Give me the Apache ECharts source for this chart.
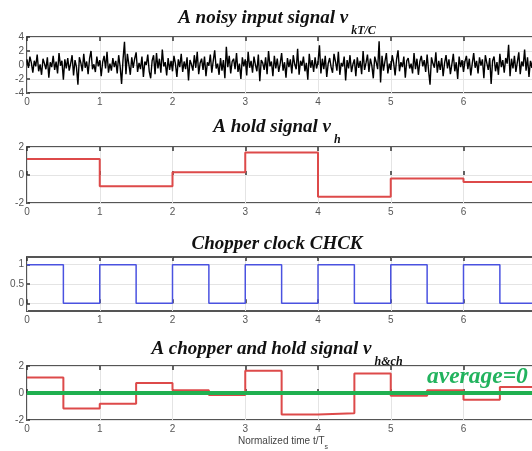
<!DOCTYPE html>
<html>
<head>
<meta charset="utf-8">
<script src="https://cdn.jsdelivr.net/npm/echarts@6/dist/echarts.min.js"></script>
<style>
  html, body { margin: 0; padding: 0; background: #fff; }
  #main { width: 532px; height: 451px; }
</style>
</head>
<body>
<div id="main"></div>
<script>
// noise samples, one every 0.02 T_s
var noiseStep = 0.02;
var noiseValues = [
  0.8, -0.4, 1.2, 0.3, -1.1, 0.6, -0.2, 1.5, -0.9, 0.1,
  -1.4, 0.9, 0.2, -0.6, 1.1, -1.8, 0.4, -0.3, 1.3, -0.7,
  0.5, -1.2, 1.7, -0.1, 0.6, -2.1, 0.8, -0.5, 1.0, -0.8,
  0.2, 1.4, -1.5, 0.7, -0.3, -2.8, 1.1, 0.3, -0.9, 1.6,
  -0.4, 0.5, -1.3, 0.9, 2.0, -0.6, 0.1, -1.0, 1.2, -0.2,
  0.7, -1.6, 0.4, 1.3, -0.5, 1.9, -1.1, 0.2, -0.8, 1.0,
  -0.3, 0.6, -1.2, 1.4, -0.2, -2.7, 0.8, 3.3, -1.3, 1.6,
  0.1, -1.4, 1.1, -0.4, 0.9, 1.8, -1.0, 0.3, -0.6, 1.2,
  -1.7, 0.5, 0.0, 1.5, -0.9, -1.9, 0.6, 1.4, -1.3, 1.7,
  -0.5, 0.9, -1.1, 2.2, -0.2, 0.4, -1.5, 1.0, -0.7, 0.6,
  -0.9, 1.3, 0.2, -1.7, 0.8, -0.3, 1.6, -1.0, 0.5, -0.6,
  1.1, -2.2, 0.7, 0.1, -0.8, 1.4, -0.4, 1.9, -1.3, 0.3,
  0.9, -0.7, 1.2, -1.6, 0.4, -0.1, 1.5, -1.1, 0.6, 2.1,
  -0.5, 0.2, -1.4, 1.0, -0.8, 0.7, -1.9, 2.6, -0.3, 1.3,
  -1.2, 0.5, 0.9, -0.6, 1.7, -1.0, 0.2, -2.0, 1.1, -0.2,
  0.8, -1.5, 1.9, -0.4, 0.6, -1.1, 1.2, 0.0, -0.9, 1.5,
  -2.3, 0.7, 0.3, -0.7, 1.1, -1.3, 2.0, -0.2, 0.5, -1.6,
  1.3, -0.5, 0.9, -1.0, 0.2, 1.7, -0.8, 0.4, -1.8, 1.0,
  -0.3, 0.8, -1.2, 1.4, 0.1, -0.6, 2.3, -1.4, 0.6, -0.1,
  1.2, -0.9, 0.3, -2.1, 1.6, -0.4, 0.7, -1.0, 1.1, -0.5,
  0.4, 2.8, -1.2, 0.9, -0.6, 1.3, -1.7, 0.2, 1.0, -0.3,
  -1.1, 1.6, 0.5, -0.8, 1.9, -1.4, 0.3, -0.2, 1.2, -2.2,
  0.7, -0.5, 1.4, -1.0, 0.1, 0.8, -1.6, 1.1, -0.4, 0.6,
  -1.3, 2.0, -0.7, 0.3, 1.5, -1.0, 0.9, -0.1, -1.9, 1.2,
  0.4, -0.6, 3.4, -2.5, 1.3, -0.8, 0.5, 1.7, -1.2, 0.2,
  -0.7, 1.4, 0.3, -1.5, 0.8, 2.1, -0.9, 0.4, -0.3, 1.2,
  -1.8, 0.6, 1.0, -0.5, 0.2, -1.2, 1.7, -0.6, 0.9, -1.4,
  0.5, 1.3, -0.2, 0.7, -1.0, 1.5, -0.8, -2.8, 1.1, 0.2,
  -0.4, 1.8, -1.1, 0.6, -0.7, 1.0, -1.6, 0.3, 1.4, -0.5,
  0.8, -1.3, 0.1, 1.6, -0.9, 0.4, -2.0, 1.2, -0.3, 0.7,
  -1.0, 0.5, 1.3, -0.6, 0.9, -1.5, 0.2, 1.7, -0.4, 0.6,
  -1.2, 1.1, -0.1, 0.8, -1.9, 1.4, 0.3, -0.7, 1.0, -2.7,
  0.6, 1.2, -0.9, 0.4, -1.4, 1.6, -0.3, 0.7, -1.1, 1.0,
  0.2, 2.9, -1.6, 0.9, -0.5, 1.3, -1.0, 0.4, 1.8, -1.3,
  0.5, -0.2, 2.2, -0.8, 1.1, -1.7, 0.6, -0.4, 1.5, 0.1,
  -0.8, 1.2, -0.3, 0.7, -1.4, 1.0, 0.2, -0.9, 1.5, -0.5
];

// hold signal, one value per T_s
var holdTimes = [0, 1, 2, 3, 4, 5, 6, 7, 8];
var holdValues = [1.15, -0.8, 0.2, 1.6, -1.55, -0.25, -0.5, -0.5, -0.5];

// chopper clock, half periods
var clockTimes = [0, 0.5, 1, 1.5, 2, 2.5, 3, 3.5, 4, 4.5, 5, 5.5, 6, 6.5, 7, 7.5, 8];
var clockValues = [1, 0, 1, 0, 1, 0, 1, 0, 1, 0, 1, 0, 1, 0, 1, 0, 0];

// chopped and held signal
var chopTimes = clockTimes;
var chopValues = [1.15, -1.15, -0.8, 0.75, 0.2, -0.15, 1.65, -1.6, -1.5, 1.45, -0.2, 0.2, -0.5, 0.45, -0.5, 0.5, 0.5];
var averageValue = 0;

var yTicksNoise = [-4, -2, 0, 2, 4];
var yTicksHold = [-2, 0, 2];
var yTicksClock = [0, 0.5, 1];

function pairs(xs, ys) {
  return xs.map(function (x, i) { return [x, ys[i]]; });
}
var noiseData = noiseValues.map(function (v, i) { return [i * noiseStep, v]; });

var chart = echarts.init(document.getElementById('main'));

// the plots run past the right edge of the picture
var grids = [
  { left: 27, width: 582, top: 37, height: 56 },
  { left: 27, width: 582, top: 147, height: 56 },
  { left: 27, width: 582, top: 257, height: 54 },
  { left: 27, width: 582, top: 366, height: 54 }
];
grids.forEach(function (g) {
  g.show = true;
  g.borderColor = '#555';
  g.borderWidth = 2;
  g.backgroundColor = '#fff';
  g.outerBoundsMode = 'none';
  g.containLabel = false;
});

var tickLabel = { color: '#555', fontSize: 10, fontFamily: 'Liberation Sans', margin: 4 };
var gridLine = { show: true, lineStyle: { color: '#e4e4e4', width: 1 } };

var xAxes = [], yAxes = [];
var yCfg = [
  { min: -4, max: 4, ticks: yTicksNoise },
  { min: -2, max: 2, ticks: yTicksHold },
  { min: -0.2, max: 1.2, ticks: yTicksClock },
  { min: -2, max: 2, ticks: yTicksHold }
];
grids.forEach(function (g, i) {
  xAxes.push({
    type: 'value', gridIndex: i, min: 0, max: 8, interval: 1, position: 'bottom',
    axisLine: { show: false },
    axisTick: { inside: true, length: 4, lineStyle: { color: '#333', width: 1.5 } },
    axisLabel: tickLabel,
    splitLine: gridLine
  });
  xAxes.push({
    type: 'value', gridIndex: i, min: 0, max: 8, interval: 1, position: 'top',
    axisLine: { show: false },
    axisTick: { inside: true, length: 4, lineStyle: { color: '#333', width: 1.5 } },
    axisLabel: { show: false },
    splitLine: { show: false }
  });
  yAxes.push({
    type: 'value', gridIndex: i, min: yCfg[i].min, max: yCfg[i].max,
    axisLine: { show: false },
    axisTick: { inside: true, length: 3, customValues: yCfg[i].ticks, lineStyle: { color: '#333', width: 1.5 } },
    axisLabel: Object.assign({}, tickLabel, { customValues: yCfg[i].ticks, margin: 3 }),
    splitLine: gridLine
  });
});

var titleFont = { fontFamily: 'Liberation Serif', fontStyle: 'italic', fontWeight: 'bold', color: '#111' };
function richTitle(main, sub, top) {
  return {
    text: '{m|' + main + '}' + (sub ? '{s|' + sub + '}' : ''),
    left: 277, top: top, textAlign: 'center', padding: 0,
    textStyle: {
      rich: {
        m: Object.assign({ fontSize: 19, lineHeight: 21, verticalAlign: 'top' }, titleFont),
        s: Object.assign({ fontSize: 12, lineHeight: 28, verticalAlign: 'bottom', padding: [0, 0, 0, 3] }, titleFont)
      }
    }
  };
}

var option = {
  animation: false,
  backgroundColor: '#fff',
  title: [
    richTitle('A noisy input signal v', 'kT/C', 9),
    richTitle('A hold signal v', 'h', 118),
    richTitle('Chopper clock CHCK', null, 235),
    richTitle('A chopper and hold signal v', 'h&ch', 340),
    {
      text: '{m|Normalized time t/T}{s|s}',
      left: 283, top: 436, textAlign: 'center', padding: 0,
      textStyle: {
        rich: {
          m: { fontSize: 10, fontFamily: 'Liberation Sans', fontWeight: 'normal', color: '#444', lineHeight: 12, verticalAlign: 'top' },
          s: { fontSize: 7, fontFamily: 'Liberation Sans', fontWeight: 'normal', color: '#444', lineHeight: 15, verticalAlign: 'bottom' }
        }
      }
    }
  ],
  grid: grids,
  xAxis: xAxes,
  yAxis: yAxes,
  graphic: [{
    type: 'text', left: 427, top: 365, z: 100,
    style: {
      text: 'average=0', fill: '#22b35e',
      font: 'italic bold 23.5px "Liberation Serif"'
    }
  }],
  series: [
    {
      type: 'line', xAxisIndex: 0, yAxisIndex: 0, data: noiseData,
      showSymbol: false, lineStyle: { color: '#000', width: 1.4 }
    },
    {
      type: 'line', xAxisIndex: 2, yAxisIndex: 1, data: pairs(holdTimes, holdValues), step: 'end',
      showSymbol: false, lineStyle: { color: '#dd4a4a', width: 2 }
    },
    {
      type: 'line', xAxisIndex: 4, yAxisIndex: 2, data: pairs(clockTimes, clockValues), step: 'end',
      showSymbol: false, lineStyle: { color: '#4a52e0', width: 1.5 }
    },
    {
      type: 'line', xAxisIndex: 6, yAxisIndex: 3, data: pairs(chopTimes, chopValues), step: 'end',
      showSymbol: false, lineStyle: { color: '#dd4a4a', width: 2 }
    },
    {
      type: 'line', xAxisIndex: 6, yAxisIndex: 3, z: 5,
      data: [[0, averageValue], [8, averageValue]],
      showSymbol: false, lineStyle: { color: '#20b050', width: 4 }
    }
  ]
};

chart.setOption(option);
</script>
</body>
</html>
